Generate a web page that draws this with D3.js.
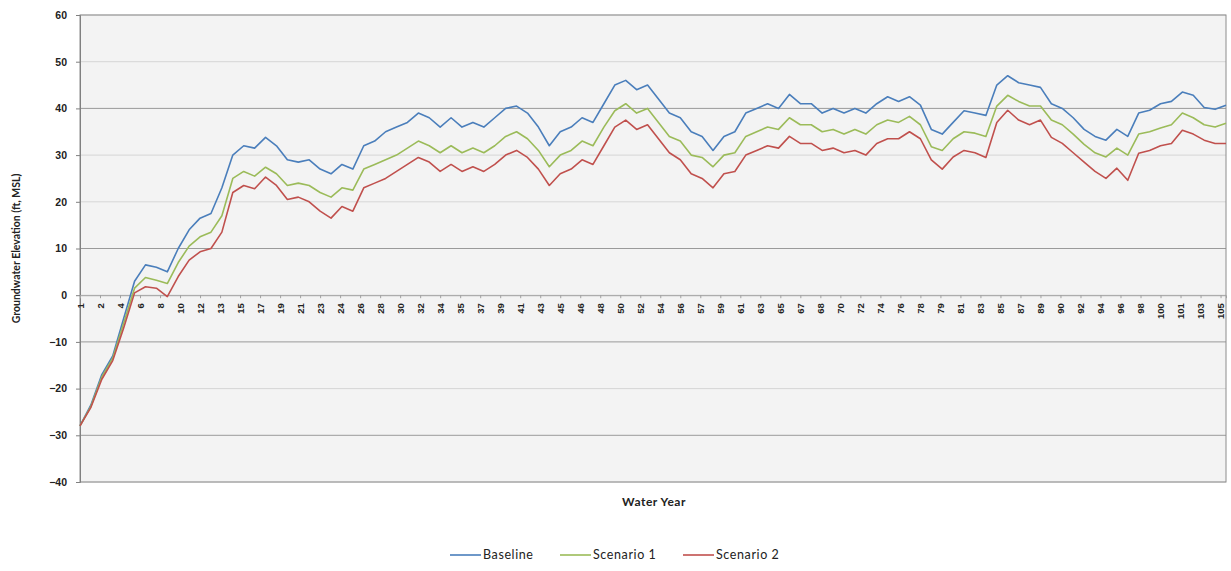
<!DOCTYPE html>
<html><head><meta charset="utf-8">
<script src="https://cdn.jsdelivr.net/npm/d3@7"></script>
<style>body{margin:0;background:#fff;}svg{display:block;font-family:Lato,"Open Sans",sans-serif;}</style>
</head><body><svg id="c" width="1231" height="571"></svg>
<script>
// Year-start category index (1 = start of water year 1)
const years = [1,2,3,4,5,6,7,8,9,10,11,12,13,14,15,16,17,18,19,20,21,22,23,24,25,26,27,28,29,30,31,32,33,34,35,36,37,38,39,40,41,42,43,44,45,46,47,48,49,50,51,52,53,54,55,56,57,58,59,60,61,62,63,64,65,66,67,68,69,70,71,72,73,74,75,76,77,78,79,80,81,82,83,84,85,86,87,88,89,90,91,92,93,94,95,96,97,98,99,100,101,102,103,104,105,106];
const baseline = [-28,-23.5,-17,-13,-5,3,6.5,6,5,10,14,16.5,17.5,23,30,32,31.5,33.8,32,29,28.5,29,27,26,28,27,32,33,35,36,37,39,38,36,38,36,37,36,38,40,40.5,39,36,32,35,36,38,37,41,45,46,44,45,42,39,38,35,34,31,34,35,39,40,41,40,43,41,41,39,40,39,40,39,41,42.5,41.5,42.5,40.7,35.5,34.5,37,39.5,39,38.5,45,47,45.5,45,44.5,41,40,38,35.5,34,33.2,35.5,34,39,39.6,41,41.5,43.5,42.8,40.2,39.8,40.7];
const scenario1 = [-28,-23.8,-17.5,-13.5,-6,1.5,3.8,3.2,2.5,7,10.5,12.5,13.5,17,25,26.5,25.5,27.4,26,23.5,24,23.5,22,21,23,22.5,27,28,29,30,31.5,33,32,30.5,32,30.5,31.5,30.5,32,34,35,33.5,31,27.5,30,31,33,32,36,39.5,41,39,40,37,34,33,30,29.5,27.5,30,30.5,34,35,36,35.5,38,36.5,36.5,35,35.5,34.5,35.5,34.5,36.5,37.5,37,38.3,36.5,31.8,31,33.5,35,34.7,34,40.5,42.8,41.5,40.5,40.5,37.5,36.5,34.5,32.3,30.5,29.6,31.5,30,34.5,35,35.8,36.5,39,38,36.5,36,36.8];
const scenario2 = [-28,-24,-18,-14,-7,0.5,1.8,1.5,-0.3,4,7.5,9.3,10,13.5,22,23.5,22.8,25.3,23.5,20.5,21,20,18,16.5,19,18,23,24,25,26.5,28,29.5,28.5,26.5,28,26.5,27.5,26.5,28,30,31,29.5,27,23.5,26,27,29,28,32,36,37.5,35.5,36.5,33.5,30.5,29,26,25,23,26,26.5,30,31,32,31.5,34,32.5,32.5,31,31.5,30.5,31,30,32.5,33.5,33.5,35,33.5,29,27,29.6,31,30.5,29.5,37,39.6,37.5,36.5,37.5,33.8,32.5,30.5,28.5,26.5,25,27.2,24.6,30.4,31,32,32.5,35.3,34.5,33.2,32.5,32.5];
const tickLabels = [1,2,4,6,8,10,12,13,15,17,19,21,23,24,26,28,30,32,34,35,37,39,41,43,45,46,48,50,52,54,56,57,59,61,63,65,67,68,70,72,74,76,78,79,81,83,85,87,89,90,92,94,96,98,100,101,103,105];
const yTicks = [-40,-30,-20,-10,0,10,20,30,40,50,60];
const seriesNames = ["Baseline","Scenario 1","Scenario 2"];
const seriesColors = ["#4a7ebb","#9bbb59","#c0504d"];
const labelStepMonths = 22;

const svg = d3.select("#c");
const L = 80, R = 1226, T = 15, B = 482;
const x = d3.scaleLinear().domain([1, 106]).range([L, R]);
const y = d3.scaleLinear().domain([-40, 60]).range([B, T]);

svg.append("rect").attr("x", L).attr("y", T).attr("width", R - L).attr("height", B - T).attr("fill", "#f3f3f3");

// gridlines
const darkGrid = new Set([40, 10, -10, -30]);
svg.append("g").selectAll("line").data(yTicks).join("line")
  .attr("x1", L).attr("x2", R).attr("y1", d => y(d)).attr("y2", d => y(d))
  .attr("stroke", d => darkGrid.has(d) ? "#9a9a9a" : "#d6d6d6").attr("stroke-width", 1);

// border
svg.append("rect").attr("x", L).attr("y", T).attr("width", R - L).attr("height", B - T)
  .attr("fill", "none").attr("stroke", "#8c8c8c").attr("stroke-width", 1);

// y axis
const yAxis = d3.axisLeft(y).tickValues(yTicks).tickSize(4).tickPadding(9).tickFormat(d3.format("d"));
const ga = svg.append("g").attr("transform", `translate(${L},0)`).call(yAxis);
ga.select(".domain").attr("stroke", "#808080");
ga.selectAll(".tick line").attr("stroke", "#808080");
ga.selectAll("text").attr("font-size", 10.5).attr("fill", "#222").attr("font-weight", "bold");

// x axis at zero
const xTickPos = tickLabels.map((d, i) => 1 + i * labelStepMonths / 12);
const xAxis = d3.axisBottom(x).tickValues(xTickPos).tickSize(3).tickFormat((d, i) => tickLabels[i]);
const gx = svg.append("g").attr("transform", `translate(0,${y(0)})`).call(xAxis);
gx.select(".domain").attr("stroke", "#a0a0a0");
gx.selectAll(".tick line").attr("stroke", "#a0a0a0");
gx.selectAll("text").attr("font-size", 9.5).attr("fill", "#222").attr("font-weight", "bold")
  .attr("text-anchor", "end").attr("dy", "0.32em")
  .attr("transform", "translate(0,8) rotate(-90)").attr("x", 0).attr("y", 0);

// lines
const series = [baseline, scenario1, scenario2];
const line = d3.line().x((d, i) => x(years[i])).y(d => y(d));
svg.append("g").selectAll("path").data(series).join("path")
  .attr("d", d => line(d)).attr("fill", "none")
  .attr("stroke", (d, i) => seriesColors[i]).attr("stroke-width", 1.6).attr("stroke-linejoin", "round");

// axis titles
svg.append("text").attr("x", 654).attr("y", 506).attr("text-anchor", "middle")
  .attr("font-size", 12).attr("font-weight", "bold").attr("letter-spacing", 0.5).attr("fill", "#222").text("Water Year");
svg.append("text").attr("transform", `translate(20,${(T + B) / 2}) rotate(-90)`).attr("text-anchor", "middle")
  .attr("font-size", 10.5).attr("font-weight", "bold").attr("fill", "#222").text("Groundwater Elevation (ft, MSL)");

// legend
const legX = [450, 560, 683];
const lg = svg.append("g").selectAll("g").data(seriesNames).join("g")
  .attr("transform", (d, i) => `translate(${legX[i]},555)`);
lg.append("line").attr("x1", 0).attr("x2", 31).attr("stroke", (d, i) => seriesColors[i]).attr("stroke-width", 1.6);
lg.append("text").attr("x", 33).attr("dy", "0.35em").attr("font-size", 12.5).attr("letter-spacing", 0.6).attr("fill", "#222").text(d => d);
</script></body></html>
